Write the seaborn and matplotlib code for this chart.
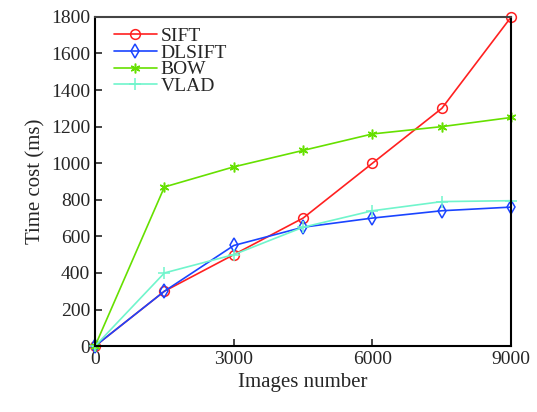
import matplotlib
matplotlib.use("Agg")
import matplotlib.pyplot as plt
import seaborn as sns
import pandas as pd

images = [0, 1500, 3000, 4500, 6000, 7500, 9000]
sift = [0, 300, 500, 700, 1000, 1300, 1800]
dlsift = [0, 300, 550, 650, 700, 740, 760]
bow = [0, 870, 980, 1070, 1160, 1200, 1250]
vlad = [0, 400, 500, 650, 740, 790, 795]

series = {"SIFT": sift, "DLSIFT": dlsift, "BOW": bow, "VLAD": vlad}
colors = {"SIFT": "#ff2020", "DLSIFT": "#1a44ff", "BOW": "#66e000", "VLAD": "#70f5cc"}
markers = {"SIFT": "o", "DLSIFT": "d", "BOW": (6, 2, 0), "VLAD": "+"}

sns.set_style("ticks")
plt.rcParams["font.family"] = ["Liberation Serif", "DejaVu Serif"]

fig = plt.figure(figsize=(5.37, 4.12), dpi=100)
ax = fig.add_axes([0.177, 0.160, 0.775, 0.799])

for name, vals in series.items():
    df = pd.DataFrame({"x": images, "y": vals})
    filled = name == "BOW"
    sns.lineplot(data=df, x="x", y="y", ax=ax, color=colors[name], label=name,
                 marker=markers[name], markersize=7 if name != "VLAD" else 8,
                 markerfacecolor=colors[name] if filled else "none",
                 markeredgecolor=colors[name], markeredgewidth=1.1, linewidth=1.2,
                 clip_on=False)

ax.set_xlim(0, 9000)
ax.set_ylim(0, 1800)
ax.set_xticks([0, 3000, 6000, 9000])
ax.set_yticks(range(0, 1801, 200))
ax.tick_params(direction="in", labelsize=14, length=5, width=1.2, top=False, right=False)
ax.set_xlabel("Images number", fontsize=15)
ax.set_ylabel("Time cost (ms)", fontsize=15)
for s in ax.spines.values():
    s.set_linewidth(1.5)
    s.set_color("black")
ax.spines["top"].set_color("#444444")

ax.legend(loc="upper left", frameon=False, fontsize=14, handlelength=2.2,
          labelspacing=-0.05, handletextpad=0.2, borderaxespad=0.15,
          bbox_to_anchor=(0.02, 1.0))

fig.savefig("out.png", dpi=100)
